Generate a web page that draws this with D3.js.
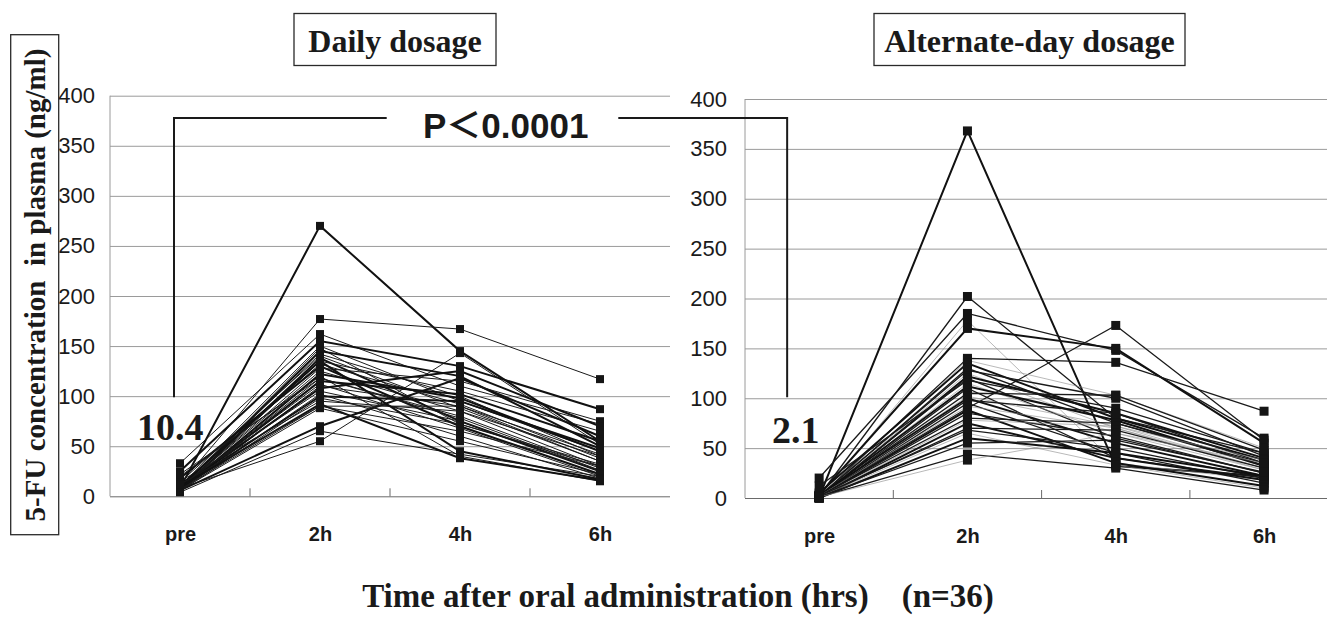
<!DOCTYPE html>
<meta charset="utf-8">

<script src="https://d3js.org/d3.v7.min.js"></script>

<style type="text/css">

body {
  margin: 0;
  background: #fff;
}

.grid line {
  stroke: #9a9a9a;
  stroke-width: 1px;
}

.grid path {
  display: none;
}

.y-axis text {
  font-family: "Liberation Sans Narrow", "Arial Narrow", "Liberation Sans", sans-serif;
  font-size: 22px;
  fill: #1a1a1a;
}

.x-axis text {
  font-family: "Liberation Sans", Arial, sans-serif;
  font-weight: bold;
  font-size: 20px;
  fill: #1a1a1a;
}

.x-axis path, .x-axis line {
  display: none;
}

.serif {
  font-family: "Liberation Serif", "Times New Roman", serif;
  font-weight: bold;
  fill: #1a1a1a;
}

</style>

<body>
</body>

<script>

// time points on the x axis
var timeLabels = ["pre", "2h", "4h", "6h"];
var yTicks = [0, 50, 100, 150, 200, 250, 300, 350, 400];

// daily dosage, 36 patients (ng/ml)
var dailyPre = [8, 12, 8, 6, 4, 33, 25, 10, 7, 8, 9, 14, 6, 5, 11, 18, 8, 8, 6, 20, 7, 7, 9, 5, 8, 12, 6, 8, 5, 15, 9, 7, 6, 10, 22, 12];
var daily2h  = [270, 177, 55, 70, 65, 162, 155, 150, 148, 145, 142, 140, 138, 135, 132, 130, 128, 125, 122, 120, 118, 115, 112, 110, 108, 105, 102, 100, 98, 95, 92, 90, 88, 135, 118, 90];
var daily4h  = [145, 167, 143, 118, 42, 110, 130, 95, 72, 120, 100, 88, 75, 105, 92, 70, 115, 85, 98, 40, 80, 102, 68, 90, 125, 75, 60, 95, 72, 85, 38, 90, 55, 45, 78, 65];
var daily6h  = [55, 117, 52, 60, 20, 72, 87, 45, 30, 50, 40, 35, 25, 65, 38, 22, 75, 30, 45, 15, 28, 55, 20, 35, 70, 25, 18, 48, 32, 40, 16, 42, 22, 17, 26, 30];

// alternate-day dosage, 36 patients (ng/ml)
var altPre = [1, 2, 20, 1, 3, 1, 2, 1, 5, 1, 2, 1, 0, 1, 12, 1, 2, 0, 1, 1, 3, 1, 0, 2, 1, 1, 2, 1, 0, 1, 2, 1, 0, 1, 1, 1];
var alt2h  = [368, 202, 185, 178, 170, 140, 90, 138, 135, 130, 128, 125, 122, 120, 118, 115, 112, 110, 105, 102, 100, 98, 95, 92, 88, 85, 80, 78, 75, 70, 68, 65, 60, 55, 44, 38];
var alt4h  = [32, 80, 148, 35, 150, 136, 173, 103, 80, 75, 100, 70, 85, 60, 90, 65, 78, 40, 103, 72, 55, 85, 45, 70, 35, 62, 75, 72, 40, 68, 50, 33, 45, 58, 30, 65];
var alt6h  = [22, 45, 60, 18, 55, 87, 58, 50, 38, 35, 42, 30, 40, 25, 45, 28, 32, 20, 48, 30, 22, 35, 15, 28, 12, 25, 33, 38, 18, 30, 20, 10, 22, 26, 8, 35];

var dailyMean = "10.4";
var altMean = "2.1";

function toPatients(a, b, c, d) {
  return d3.range(a.length).map(function(i) {
    return [a[i], b[i], c[i], d[i]].map(function(v, j) { return {t: timeLabels[j], v: v}; });
  });
}

var svg = d3.select("body").append("svg")
    .attr("width", 1327)
    .attr("height", 617);

function drawPanel(opts) {
  var x = d3.scalePoint()
    .domain(timeLabels)
    .range([opts.left, opts.left + opts.step * 4])
    .padding(0.5);

  var y = d3.scaleLinear()
    .domain([0, 400])
    .range([opts.bottom, opts.top]);

  var g = svg.append("g");

  // gridlines + y labels
  g.append("g")
      .attr("class", "grid y-axis")
      .attr("transform", "translate(" + opts.left + ",0)")
      .call(d3.axisLeft(y).tickValues(yTicks).tickSize(-(opts.right - opts.left)).tickPadding(opts.labelGap));

  g.select(".grid").selectAll(".tick line")
      .style("stroke", function(d) { return d == 0 ? "#6a6a6a" : "#9a9a9a"; });

  // left border of plot area
  g.append("line")
      .attr("x1", opts.left).attr("x2", opts.left)
      .attr("y1", y(400)).attr("y2", y(0))
      .style("stroke", "#9a9a9a");

  // small ticks between categories
  g.selectAll(".sep")
    .data(timeLabels.slice(1))
    .enter().append("line")
      .attr("class", "sep")
      .attr("x1", function(d) { return x(d) - opts.step / 2; })
      .attr("x2", function(d) { return x(d) - opts.step / 2; })
      .attr("y1", y(0))
      .attr("y2", y(0) - 8)
      .style("stroke", "#6a6a6a");

  g.append("g")
      .attr("class", "x-axis")
      .attr("transform", "translate(0," + y(0) + ")")
      .call(d3.axisBottom(x).tickSize(0).tickPadding(31));

  var line = d3.line()
    .x(function(d) { return x(d.t); })
    .y(function(d) { return y(d.v); });

  g.selectAll(".patient")
    .data(opts.patients)
    .enter().append("path")
      .attr("class", "patient")
      .attr("d", line)
      .style("fill", "none")
      .style("stroke", function(d, i) { return opts.stroke(i).color; })
      .style("stroke-width", function(d, i) { return opts.stroke(i).width; });

  var pts = [];
  opts.patients.forEach(function(p) { pts = pts.concat(p); });

  g.selectAll(".pt")
    .data(pts)
    .enter().append("rect")
      .attr("class", "pt")
      .attr("x", function(d) { return x(d.t) - opts.marker / 2; })
      .attr("y", function(d) { return y(d.v) - opts.marker / 2; })
      .attr("width", opts.marker)
      .attr("height", opts.marker)
      .style("fill", "#151515");

  // mean of pre values
  g.append("text")
      .attr("class", "serif")
      .attr("x", opts.meanX)
      .attr("y", opts.meanY)
      .style("font-size", "38px")
      .text(opts.mean);

  // boxed title
  g.append("rect")
      .attr("x", opts.boxX).attr("y", 13.5)
      .attr("width", opts.boxW).attr("height", 52)
      .style("fill", "none")
      .style("stroke", "#2a2a2a")
      .style("stroke-width", 1.3);

  g.append("text")
      .attr("class", "serif")
      .attr("x", opts.boxX + opts.boxW / 2)
      .attr("y", 52)
      .attr("text-anchor", "middle")
      .style("font-size", "32px")
      .text(opts.title);

  return {x: x, y: y};
}

var left = drawPanel({
  left: 110, right: 670, step: 140, top: 95.7, bottom: 496.3, labelGap: 15,
  patients: toPatients(dailyPre, daily2h, daily4h, daily6h),
  marker: 8,
  stroke: function(i) { return i % 3 == 0 ? {color: "#111", width: 2} : {color: "#1a1a1a", width: 1}; },
  mean: dailyMean, meanX: 137, meanY: 440,
  title: "Daily dosage", boxX: 294, boxW: 202
});

var right = drawPanel({
  left: 745, right: 1327, step: 148.3, top: 99, bottom: 498, labelGap: 18,
  patients: toPatients(altPre, alt2h, alt4h, alt6h),
  marker: 9,
  stroke: function(i) {
    if (i % 4 == 3) return {color: "#8a8a8a", width: 0.6};
    return i % 4 == 0 ? {color: "#111", width: 2} : {color: "#1a1a1a", width: 1.3};
  },
  mean: altMean, meanX: 772, meanY: 443,
  title: "Alternate-day dosage", boxX: 874, boxW: 311
});

// significance bracket joining the two pre groups
var bx1 = left.x("pre") - 6, bx2 = right.x("pre") - 32;
var bTop = 118, bLow = left.y(100) + 1;

svg.append("path")
    .attr("d", "M" + bx1 + "," + bLow + "V" + bTop + "H386.7" +
               "M618.3," + bTop + "H" + bx2 + "V" + bLow)
    .style("fill", "none")
    .style("stroke", "#1a1a1a")
    .style("stroke-width", 2);

svg.append("text")
    .attr("x", 423)
    .attr("y", 138)
    .style("font-family", "'Liberation Sans', Arial, 'Noto Sans CJK JP', sans-serif")
    .style("font-weight", "bold")
    .style("font-size", "35px")
    .style("fill", "#1a1a1a")
    .text("P＜0.0001");

// y axis title in a box
svg.append("rect")
    .attr("x", 10.7).attr("y", 34.7)
    .attr("width", 48).attr("height", 500)
    .style("fill", "none")
    .style("stroke", "#2a2a2a")
    .style("stroke-width", 1.3);

svg.append("text")
    .attr("class", "serif")
    .attr("transform", "translate(45,285) rotate(-90)")
    .attr("text-anchor", "middle")
    .style("font-size", "29px")
    .style("white-space", "pre")
    .text("5-FU concentration  in plasma (ng/ml)");

svg.append("text")
    .attr("class", "serif")
    .attr("x", 678)
    .attr("y", 607)
    .attr("text-anchor", "middle")
    .style("font-size", "33px")
    .style("white-space", "pre")
    .text("Time after oral administration (hrs)    (n=36)");

</script>
